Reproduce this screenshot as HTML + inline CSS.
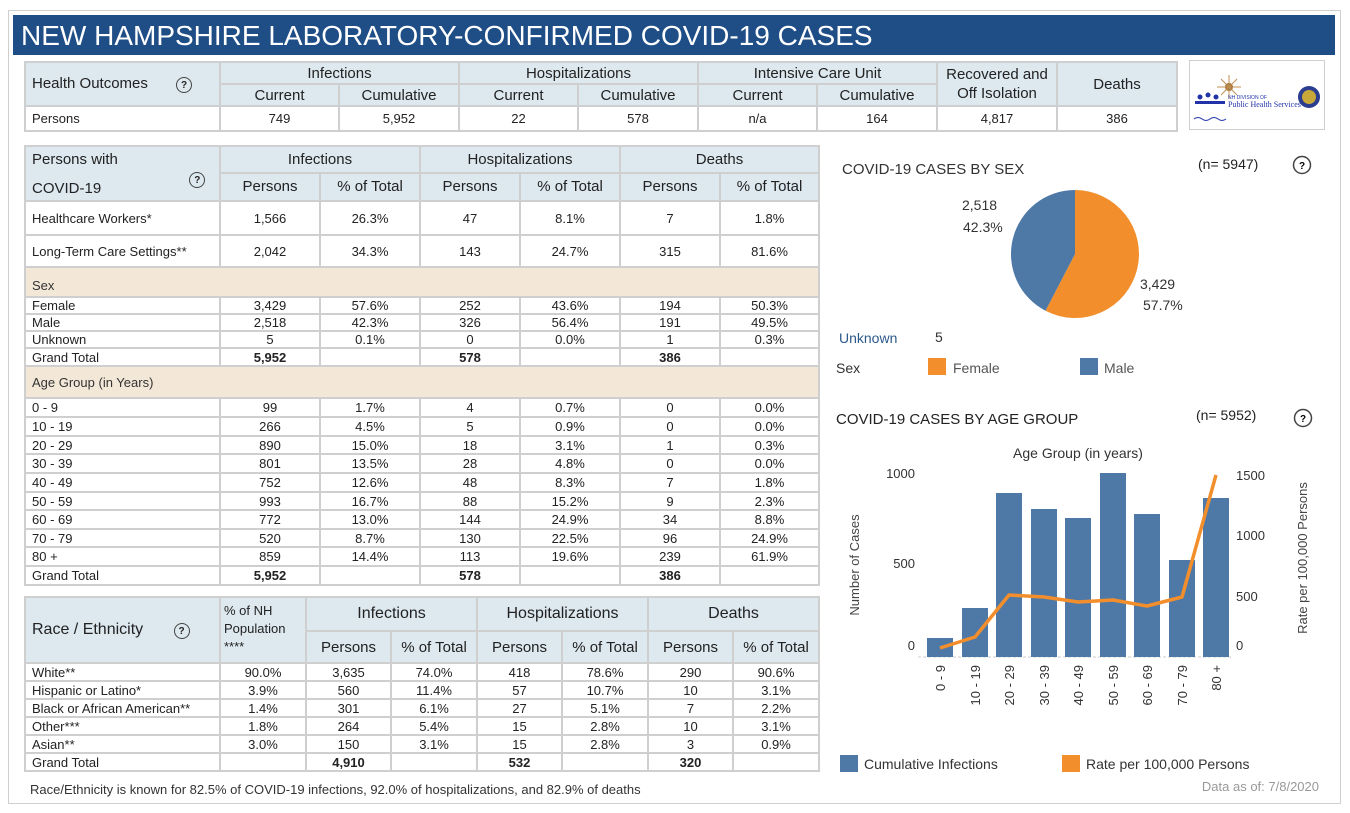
<!DOCTYPE html>
<html><head><meta charset="utf-8"><style>
body{margin:0;width:1350px;height:813px;background:#fff;position:relative;overflow:hidden;font-family:"Liberation Sans",sans-serif;color:#222}
.abs{position:absolute}
table{border-collapse:collapse;table-layout:fixed;position:absolute;font-size:13px}
td{border:2px solid #cfcfcf;padding:0;text-align:center;overflow:hidden;white-space:nowrap;line-height:1}
.h{background:#dde8ef;font-size:15px}
.l{text-align:left;padding-left:6px}
.band td{background:#f3e8d8;text-align:left;padding-left:6px;font-size:13px;color:#333}
.q{display:inline-block;width:16px;height:16px;border:1.5px solid #444;border-radius:50%;font-size:10px;line-height:16px;text-align:center;font-weight:bold;box-sizing:border-box}
.b{font-weight:bold}
</style></head><body>
<div class="abs" style="left:8px;top:10px;width:1331px;height:792px;border:1px solid #cfcfcf"></div>
<div class="abs" style="left:13px;top:15px;width:1322px;height:40px;background:#1f4e87;color:#fff;font-size:28px;line-height:42px;padding-left:8px;box-sizing:border-box">NEW HAMPSHIRE LABORATORY-CONFIRMED COVID-19 CASES</div>

<table style="left:24px;top:61px;width:1152px">
<colgroup><col style="width:195px"><col style="width:119px"><col style="width:120px"><col style="width:119px"><col style="width:120px"><col style="width:119px"><col style="width:120px"><col style="width:120px"><col style="width:120px"></colgroup>
<tr style="height:22px"><td class="h l" rowspan="2">Health Outcomes <span class="q" style="margin-left:24px">?</span></td><td class="h" colspan="2">Infections</td><td class="h" colspan="2">Hospitalizations</td><td class="h" colspan="2">Intensive Care Unit</td><td class="h" rowspan="2" style="line-height:1.3">Recovered and<br>Off Isolation</td><td class="h" rowspan="2">Deaths</td></tr>
<tr style="height:22px"><td class="h">Current</td><td class="h">Cumulative</td><td class="h">Current</td><td class="h">Cumulative</td><td class="h">Current</td><td class="h">Cumulative</td></tr>
<tr style="height:25px"><td class="l">Persons</td><td>749</td><td>5,952</td><td>22</td><td>578</td><td>n/a</td><td>164</td><td>4,817</td><td>386</td></tr>
</table>
<div class="abs" style="left:1189px;top:60px;width:136px;height:70px;border:1px solid #cfcfcf;box-sizing:border-box">
<svg width="136" height="70"><circle cx="39" cy="26" r="4" fill="#a0703a"/><g stroke="#c09050" stroke-width="1"><line x1="39" y1="14" x2="39" y2="38"/><line x1="27" y1="26" x2="51" y2="26"/><line x1="31" y1="18" x2="47" y2="34"/><line x1="47" y1="18" x2="31" y2="34"/></g>
<circle cx="119" cy="36" r="11" fill="#2a3d8f"/><circle cx="119" cy="36" r="7" fill="#c9a83a"/>
<g fill="#2233aa"><circle cx="10" cy="36" r="2.5"/><circle cx="18" cy="34" r="2.5"/><circle cx="26" cy="36" r="2.5"/><rect x="5" y="40" width="30" height="3"/></g>
<text x="38" y="46" font-size="8" fill="#2233aa" font-family="Liberation Serif">Public Health Services</text>
<text x="38" y="38" font-size="5" fill="#2233aa">NH DIVISION OF</text>
<path d="M4 58 Q8 55 12 58 T20 58 T28 58 T36 58" stroke="#2233aa" fill="none"/></svg></div>

<table style="left:24px;top:145px;width:794px">
<colgroup><col style="width:195px"><col style="width:100px"><col style="width:100px"><col style="width:100px"><col style="width:100px"><col style="width:100px"><col style="width:99px"></colgroup>
<tr style="height:25px"><td class="h l" rowspan="2" style="line-height:1.5;padding-top:2px">Persons with<br>COVID-19 <span class="q" style="margin-left:84px;vertical-align:10px">?</span></td><td class="h" colspan="2">Infections</td><td class="h" colspan="2">Hospitalizations</td><td class="h" colspan="2">Deaths</td></tr>
<tr style="height:26px"><td class="h">Persons</td><td class="h">% of Total</td><td class="h">Persons</td><td class="h">% of Total</td><td class="h">Persons</td><td class="h">% of Total</td></tr>
<tr style="height:34px"><td class="l">Healthcare Workers*</td><td>1,566</td><td>26.3%</td><td>47</td><td>8.1%</td><td>7</td><td>1.8%</td></tr>
<tr style="height:32px"><td class="l">Long-Term Care Settings**</td><td>2,042</td><td>34.3%</td><td>143</td><td>24.7%</td><td>315</td><td>81.6%</td></tr>
<tr class="band" style="height:30px"><td colspan="7" style="vertical-align:bottom;padding-bottom:4px">Sex</td></tr>
<tr style="height:17px"><td class="l">Female</td><td>3,429</td><td>57.6%</td><td>252</td><td>43.6%</td><td>194</td><td>50.3%</td></tr>
<tr style="height:17px"><td class="l">Male</td><td>2,518</td><td>42.3%</td><td>326</td><td>56.4%</td><td>191</td><td>49.5%</td></tr>
<tr style="height:17px"><td class="l">Unknown</td><td>5</td><td>0.1%</td><td>0</td><td>0.0%</td><td>1</td><td>0.3%</td></tr>
<tr style="height:18px"><td class="l">Grand Total</td><td class="b">5,952</td><td></td><td class="b">578</td><td></td><td class="b">386</td><td></td></tr>
<tr class="band" style="height:32px"><td colspan="7">Age Group (in Years)</td></tr>
<tr style="height:19px"><td class="l">0 - 9</td><td>99</td><td>1.7%</td><td>4</td><td>0.7%</td><td>0</td><td>0.0%</td></tr>
<tr style="height:19px"><td class="l">10 - 19</td><td>266</td><td>4.5%</td><td>5</td><td>0.9%</td><td>0</td><td>0.0%</td></tr>
<tr style="height:18px"><td class="l">20 - 29</td><td>890</td><td>15.0%</td><td>18</td><td>3.1%</td><td>1</td><td>0.3%</td></tr>
<tr style="height:19px"><td class="l">30 - 39</td><td>801</td><td>13.5%</td><td>28</td><td>4.8%</td><td>0</td><td>0.0%</td></tr>
<tr style="height:19px"><td class="l">40 - 49</td><td>752</td><td>12.6%</td><td>48</td><td>8.3%</td><td>7</td><td>1.8%</td></tr>
<tr style="height:18px"><td class="l">50 - 59</td><td>993</td><td>16.7%</td><td>88</td><td>15.2%</td><td>9</td><td>2.3%</td></tr>
<tr style="height:19px"><td class="l">60 - 69</td><td>772</td><td>13.0%</td><td>144</td><td>24.9%</td><td>34</td><td>8.8%</td></tr>
<tr style="height:18px"><td class="l">70 - 79</td><td>520</td><td>8.7%</td><td>130</td><td>22.5%</td><td>96</td><td>24.9%</td></tr>
<tr style="height:19px"><td class="l">80 +</td><td>859</td><td>14.4%</td><td>113</td><td>19.6%</td><td>239</td><td>61.9%</td></tr>
<tr style="height:19px"><td class="l">Grand Total</td><td class="b">5,952</td><td></td><td class="b">578</td><td></td><td class="b">386</td><td></td></tr>
</table>

<table style="left:24px;top:596px;width:794px">
<colgroup><col style="width:195px"><col style="width:86px"><col style="width:85px"><col style="width:86px"><col style="width:85px"><col style="width:86px"><col style="width:85px"><col style="width:86px"></colgroup>
<tr style="height:34px"><td class="h l" rowspan="2" style="font-size:16px">Race / Ethnicity <span class="q" style="margin-left:26px">?</span></td><td class="h l" rowspan="2" style="font-size:13px;line-height:1.4;padding-left:3px;vertical-align:top;padding-top:4px">% of NH<br>Population<br>****</td><td class="h" colspan="2" style="font-size:16px">Infections</td><td class="h" colspan="2" style="font-size:16px">Hospitalizations</td><td class="h" colspan="2" style="font-size:16px">Deaths</td></tr>
<tr style="height:32px"><td class="h">Persons</td><td class="h">% of Total</td><td class="h">Persons</td><td class="h">% of Total</td><td class="h">Persons</td><td class="h">% of Total</td></tr>
<tr style="height:18px"><td class="l">White**</td><td>90.0%</td><td>3,635</td><td>74.0%</td><td>418</td><td>78.6%</td><td>290</td><td>90.6%</td></tr>
<tr style="height:18px"><td class="l">Hispanic or Latino*</td><td>3.9%</td><td>560</td><td>11.4%</td><td>57</td><td>10.7%</td><td>10</td><td>3.1%</td></tr>
<tr style="height:18px"><td class="l">Black or African American**</td><td>1.4%</td><td>301</td><td>6.1%</td><td>27</td><td>5.1%</td><td>7</td><td>2.2%</td></tr>
<tr style="height:18px"><td class="l">Other***</td><td>1.8%</td><td>264</td><td>5.4%</td><td>15</td><td>2.8%</td><td>10</td><td>3.1%</td></tr>
<tr style="height:18px"><td class="l">Asian**</td><td>3.0%</td><td>150</td><td>3.1%</td><td>15</td><td>2.8%</td><td>3</td><td>0.9%</td></tr>
<tr style="height:18px"><td class="l">Grand Total</td><td></td><td class="b">4,910</td><td></td><td class="b">532</td><td></td><td class="b">320</td><td></td></tr>
</table>
<div class="abs" style="left:30px;top:782px;font-size:13px;color:#333">Race/Ethnicity is known for 82.5% of COVID-19 infections, 92.0% of hospitalizations, and 82.9% of deaths</div>

<svg class="abs" style="left:0;top:0" width="1350" height="813" font-family="Liberation Sans, sans-serif">
<text x="842" y="174" font-size="15" fill="#333">COVID-19 CASES BY SEX</text>
<text x="1198" y="169" font-size="14" fill="#222">(n= 5947)</text>
<circle cx="1302" cy="165" r="8.5" fill="none" stroke="#444" stroke-width="1.5"/><text x="1302" y="169" font-size="10" font-weight="bold" text-anchor="middle">?</text>
<path d="M1075 254 L1075 190 A64 64 0 1 1 1045.5 310.8 Z" fill="#f28e2b"/>
<path d="M1075 254 L1045.5 310.8 A64 64 0 0 1 1075 190 Z" fill="#4e79a7"/>
<g font-size="14" fill="#333"><text x="962" y="210">2,518</text><text x="963" y="232">42.3%</text><text x="1140" y="289">3,429</text><text x="1143" y="310">57.7%</text></g>
<text x="839" y="343" font-size="14" fill="#2c5a8a">Unknown</text><text x="935" y="342" font-size="14" fill="#333">5</text>
<text x="836" y="373" font-size="14" fill="#333">Sex</text>
<rect x="928" y="358" width="18" height="17" fill="#f28e2b"/><text x="953" y="373" font-size="14" fill="#555">Female</text>
<rect x="1080" y="358" width="18" height="17" fill="#4e79a7"/><text x="1104" y="373" font-size="14" fill="#555">Male</text>

<text x="836" y="424" font-size="15" fill="#222">COVID-19 CASES BY AGE GROUP</text>
<text x="1196" y="420" font-size="14" fill="#222">(n= 5952)</text>
<circle cx="1303" cy="418" r="8.5" fill="none" stroke="#444" stroke-width="1.5"/><text x="1303" y="422" font-size="10" font-weight="bold" text-anchor="middle">?</text>
<text x="1078" y="458" font-size="14" text-anchor="middle" fill="#333">Age Group (in years)</text>
<line x1="918" y1="657" x2="1233" y2="657" stroke="#ccc" stroke-dasharray="3,2"/>
<g fill="#4e79a7">
<rect x="927" y="638" width="26" height="19"/><rect x="962" y="608" width="26" height="49"/><rect x="996" y="493" width="26" height="164"/><rect x="1031" y="509" width="26" height="148"/><rect x="1065" y="518" width="26" height="139"/><rect x="1100" y="473" width="26" height="184"/><rect x="1134" y="514" width="26" height="143"/><rect x="1169" y="560" width="26" height="97"/><rect x="1203" y="498" width="26" height="159"/></g>
<polyline points="940,648 975,637 1009,595 1044,597 1078,602 1113,600 1147,606 1182,597 1216,475" fill="none" stroke="#f28e2b" stroke-width="3.5" stroke-linejoin="round"/>
<g font-size="13" fill="#333" text-anchor="end"><text x="915" y="478">1000</text><text x="915" y="568">500</text><text x="915" y="650">0</text></g>
<g font-size="13" fill="#333"><text x="1236" y="480">1500</text><text x="1236" y="540">1000</text><text x="1236" y="601">500</text><text x="1236" y="650">0</text></g>
<text transform="translate(859,565) rotate(-90)" font-size="13" fill="#444" text-anchor="middle">Number of Cases</text>
<text transform="translate(1307,558) rotate(-90)" font-size="13" fill="#444" text-anchor="middle">Rate per 100,000 Persons</text>
<g font-size="13" fill="#333" text-anchor="end">
<text transform="translate(945,665) rotate(-90)">0 - 9</text><text transform="translate(980,665) rotate(-90)">10 - 19</text><text transform="translate(1014,665) rotate(-90)">20 - 29</text><text transform="translate(1049,665) rotate(-90)">30 - 39</text><text transform="translate(1083,665) rotate(-90)">40 - 49</text><text transform="translate(1118,665) rotate(-90)">50 - 59</text><text transform="translate(1152,665) rotate(-90)">60 - 69</text><text transform="translate(1187,665) rotate(-90)">70 - 79</text><text transform="translate(1221,665) rotate(-90)">80 +</text></g>
<rect x="840" y="755" width="18" height="17" fill="#4e79a7"/><text x="864" y="769" font-size="14" fill="#333">Cumulative Infections</text>
<rect x="1062" y="755" width="18" height="17" fill="#f28e2b"/><text x="1086" y="769" font-size="14" fill="#333">Rate per 100,000 Persons</text>
<text x="1319" y="791" font-size="13" fill="#999" text-anchor="end">Data as of:  7/8/2020</text>
</svg>
</body></html>
